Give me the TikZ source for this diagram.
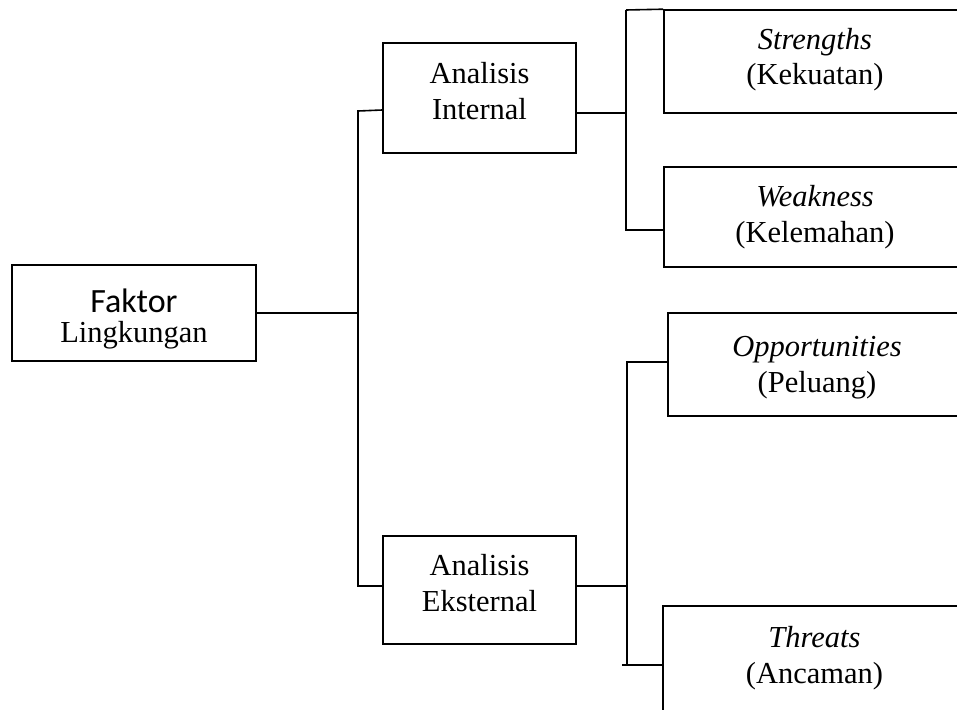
\documentclass[tikz,border=0pt]{standalone}
\usepackage{fontspec}
\setmainfont{Liberation Serif}
\newfontfamily\carlitofont{Carlito}
\begin{document}
\begin{tikzpicture}[x=1pt,y=-1pt,
  boxnode/.style={draw,line width=1.6pt,rectangle,inner sep=0pt},
  txt/.style={inner sep=0pt,align=center,font=\fontsize{30.5}{35.5}\selectfont},
  link/.style={draw,line width=1.6pt}]
\useasboundingbox (0,0) rectangle (957,709);
\clip (0,0) rectangle (957,709);
% boxes
\node[boxnode,minimum width=244pt,minimum height=96pt] (fak) at (134,313) {};
\node[boxnode,minimum width=193pt,minimum height=110pt] (ain) at (479.5,98) {};
\node[boxnode,minimum width=193pt,minimum height=108pt] (aek) at (479.5,590) {};
\node[boxnode,minimum width=302pt,minimum height=103pt] (str) at (815,61.5) {};
\node[boxnode,minimum width=302pt,minimum height=100pt] (wea) at (815,217) {};
\node[boxnode,minimum width=298pt,minimum height=103pt] (opp) at (817,364.5) {};
\node[boxnode,minimum width=303pt,minimum height=110pt] (thr) at (814.5,661) {};
% texts
\node[txt,font=\fontsize{30.5}{29.5}\selectfont] (fakT) at ([yshift=-6pt]fak.center)
  {{\carlitofont\fontsize{34}{29.5}\selectfont Faktor}\\Lingkungan};
\node[txt] (ainT) at ([yshift=7pt]ain.center) {Analisis\\Internal};
\node[txt] (aekT) at ([yshift=7pt]aek.center) {Analisis\\Eksternal};
\node[txt] (strT) at ([yshift=2pt]str.center) {\textit{Strengths}\\(Kekuatan)};
\node[txt] (weaT) at (wea.center) {\textit{Weakness}\\(Kelemahan)};
\node[txt] (oppT) at ([yshift=-3pt]opp.center) {\textit{Opportunities}\\(Peluang)};
\node[txt] (thrT) at ([yshift=3pt]thr.center) {\textit{Threats}\\(Ancaman)};
% coordinates
\coordinate (t1) at (358,111);
\coordinate (t2) at (358,586);
\coordinate (ci) at (626,113);
\coordinate (b1) at (626,10);
\coordinate (b2) at (626,230);
\coordinate (e1) at (627,362);
\coordinate (em) at (627,586);
\coordinate (e2) at (627,665);
\coordinate (e2l) at (622,665);
% connectors
\draw[link] (fak.east) -- (fak.east -| t1);
\draw[link] ([yshift=1pt]ain.west |- t1) -- (t1) -- (t2) -- (aek.west |- t2);
\draw[link] (ain.east |- ci) -- (ci);
\draw[link] (b1) -- (str.north west);
\draw[link] (b1) -- (b2) -- (wea.west |- b2);
\draw[link] (aek.east |- em) -- (em);
\draw[link] (opp.west |- e1) -- (e1) -- (e2);
\draw[link] (e2l) -- (thr.west |- e2);
\end{tikzpicture}
\end{document}
